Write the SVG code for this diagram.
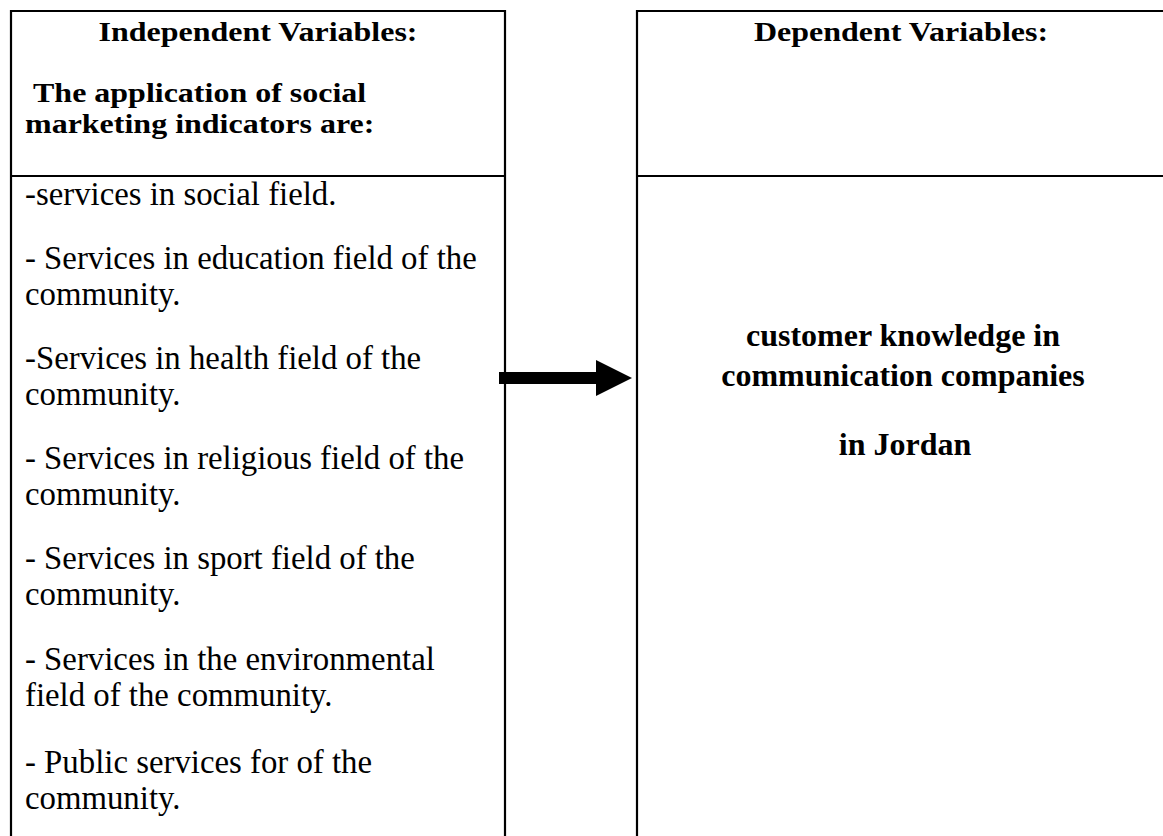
<svg xmlns="http://www.w3.org/2000/svg" width="1163" height="836" viewBox="0 0 1163 836">
  <style>
    .frame { fill: none; stroke: #000; stroke-width: 2.2; }
    .head { font-family: "Liberation Serif", "Times New Roman", serif; font-weight: bold; font-size: 32px; fill: #000; }
    .item { font-family: "Liberation Serif", "Times New Roman", serif; font-size: 32.8px; fill: #000; }
    .mid { text-anchor: middle; }
  </style>
  <rect width="1163" height="836" fill="#fff"/>

  <!-- Independent variables column -->
  <g id="independent">
    <path class="frame" d="M11,840 V11 H505 V840 M11,176 H505"/>
    <!-- title lines are set slightly condensed in height -->
    <text class="head mid" transform="matrix(1 0 0 0.85 0 41)" x="258" y="0">Independent Variables:</text>
    <text class="head" transform="matrix(1 0 0 0.85 0 102)" x="33" y="0">The application of social</text>
    <text class="head" transform="matrix(1 0 0 0.85 0 133)" x="25" y="0">marketing indicators are:</text>
    <text class="item" x="25" y="205">-services in social field.</text>
    <text class="item" x="25" y="269">- Services in education field of the</text>
    <text class="item" x="25" y="305">community.</text>
    <text class="item" x="25" y="369">-Services in health field of the</text>
    <text class="item" x="25" y="405">community.</text>
    <text class="item" x="25" y="469">- Services in religious field of the</text>
    <text class="item" x="25" y="505">community.</text>
    <text class="item" x="25" y="569">- Services in sport field of the</text>
    <text class="item" x="25" y="605">community.</text>
    <text class="item" x="25" y="670">- Services in the environmental</text>
    <text class="item" x="25" y="706">field of the community.</text>
    <text class="item" x="25" y="773">- Public services for of the</text>
    <text class="item" x="25" y="809">community.</text>
  </g>

  <!-- Dependent variables column -->
  <g id="dependent">
    <path class="frame" d="M637,840 V11 H1170 M637,176 H1170"/>
    <text class="head mid" transform="matrix(1 0 0 0.85 0 41)" x="901" y="0">Dependent Variables:</text>
    <text class="head mid" x="903" y="346">customer knowledge in</text>
    <text class="head mid" x="903" y="386">communication companies</text>
    <text class="head mid" x="905" y="455">in Jordan</text>
  </g>

  <!-- Connectors -->
  <g id="connectors">
    <polygon points="499,372 596,372 596,360 632,378 596,396 596,384 499,384" fill="#000"/>
  </g>
</svg>
